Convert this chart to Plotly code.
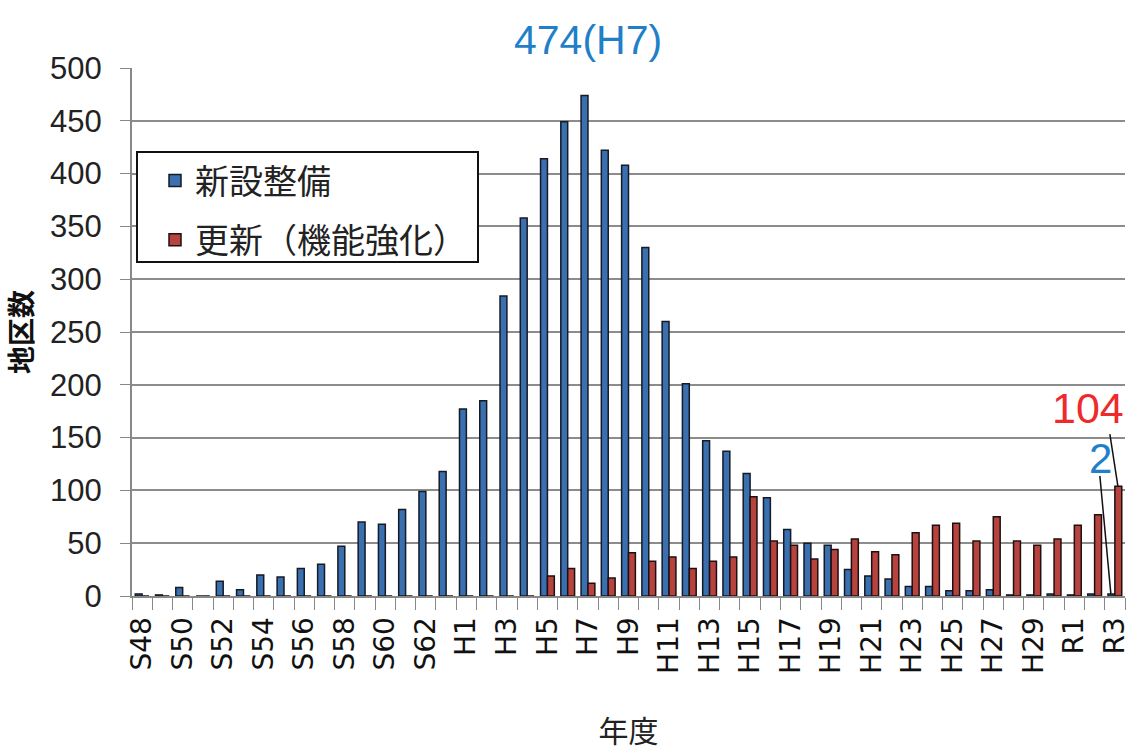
import plotly.graph_objects as go

# Fiscal years (Showa 48 .. Reiwa 3)
years = [f"S{n}" for n in range(48, 64)] + [f"H{n}" for n in range(1, 31)] + ["R1", "R2", "R3"]

# 新設整備 (new development) per year
new_dev = [2, 1, 8, 0, 14, 6, 20, 18, 26, 30, 47, 70, 68, 82, 99, 118,
           177, 185, 284, 358, 414, 449, 474, 422, 408, 330, 260, 201, 147, 137,
           116, 93, 63, 50, 48, 25, 19, 16, 9, 9, 5, 5, 6, 1, 1, 2, 1, 2, 2]

# 更新（機能強化） (renewal / function enhancement) per year
renewal = [0, 0, 0, 0, 0, 0, 0, 0, 0, 0, 0, 0, 0, 0, 0, 0,
           0, 0, 0, 0, 19, 26, 12, 17, 41, 33, 37, 26, 33, 37,
           94, 52, 48, 35, 44, 54, 42, 39, 60, 67, 69, 52, 75, 52, 48, 54, 67, 77, 104]

tick_text = [y if i % 2 == 0 else "" for i, y in enumerate(years)]

JP = "Noto Sans CJK JP"
NUM = "Liberation Sans, Arial, sans-serif"
BLUE_TXT = "#1f7fc8"
RED_TXT = "#ee2a2a"

fig = go.Figure()
fig.add_trace(go.Bar(
    x=years, y=new_dev, name="新設整備",
    marker=dict(color="#3a6fb0", line=dict(color="#151a24", width=1.5)),
    legendgroup="a",
))
fig.add_trace(go.Bar(
    x=years, y=renewal, name="更新（機能強化）",
    marker=dict(color="#b7433f", line=dict(color="#1e1010", width=1.5)),
    legendgroup="b",
))

# peak label above the plot
peak_i = new_dev.index(max(new_dev))
fig.add_annotation(
    x=years[peak_i], y=1.0, yref="paper", yanchor="bottom", yshift=3,
    text=f"{new_dev[peak_i]}({years[peak_i]})", showarrow=False,
    font=dict(family=NUM, size=41, color=BLUE_TXT),
)

# latest-year labels with leader lines
last = years[-1]
fig.add_annotation(
    x=last, y=renewal[-1], text=str(renewal[-1]), showarrow=False,
    xanchor="center", yanchor="bottom", xshift=-27, yshift=52,
    font=dict(family=NUM, size=43, color=RED_TXT),
)
fig.add_annotation(
    x=last, y=new_dev[-1], text=str(new_dev[-1]), showarrow=False,
    xanchor="center", yanchor="bottom", xshift=-14, yshift=110,
    font=dict(family=NUM, size=42, color=BLUE_TXT),
)
fig.add_shape(
    type="line", xref="x", yref="y",
    xsizemode="pixel", xanchor=last, x0=-5, x1=3,
    ysizemode="pixel", yanchor=renewal[-1], y0=52, y1=0,
    line=dict(color="#111", width=1.5),
)
fig.add_shape(
    type="line", xref="x", yref="y",
    xsizemode="pixel", xanchor=last, x0=-15, x1=-4,
    ysizemode="pixel", yanchor=new_dev[-1], y0=118, y1=0,
    line=dict(color="#111", width=1.5),
)

# framed legend panel
fig.add_shape(
    type="rect", xref="paper", yref="paper",
    x0=(137 - 132) / 993, x1=(478 - 132) / 993,
    y0=(596 - 262) / 528, y1=(596 - 152) / 528,
    line=dict(color="#111", width=2), fillcolor="white", layer="above",
)

fig.update_layout(
    width=1133, height=755,
    margin=dict(l=132, r=8, t=68, b=159, autoexpand=False),
    paper_bgcolor="white", plot_bgcolor="white",
    barmode="group", bargap=0.32, bargroupgap=0.0,
    showlegend=True,
    legend=dict(
        x=(155 - 132) / 993, y=(596 - 152) / 528, xanchor="left", yanchor="top",
        bgcolor="rgba(0,0,0,0)", borderwidth=0,
        font=dict(family=JP, size=34, color="#222"),
        tracegroupgap=12, itemwidth=30,
    ),
    xaxis=dict(
        type="category", automargin=False,
        range=[-0.5, len(years) - 0.5], autorange=False,
        tickmode="array", tickvals=years, ticktext=tick_text,
        tickson="boundaries", ticks="outside", ticklen=12, tickcolor="#888", tickwidth=1,
        tickangle=-90, ticklabelstandoff=8,
        tickfont=dict(family="DejaVu Sans", size=28, color="#111"),
        showline=True, linecolor="#888", linewidth=2,
        showgrid=False,
        title=dict(text="年度", font=dict(family=JP, size=30, color="#222"), standoff=48),
    ),
    yaxis=dict(
        range=[0, 500], dtick=50, automargin=False,
        ticks="outside", ticklen=10, tickcolor="#888",
        ticklabelstandoff=12,
        tickfont=dict(family=NUM, size=31, color="#222"),
        showline=True, linecolor="#888", linewidth=2,
        showgrid=True, gridcolor="#8c8c8c", gridwidth=2,
        zeroline=False,
        title=dict(text="<b>地区数</b>", font=dict(family=JP, size=28, color="#111"), standoff=10),
    ),
)

fig.write_html("out.html")
